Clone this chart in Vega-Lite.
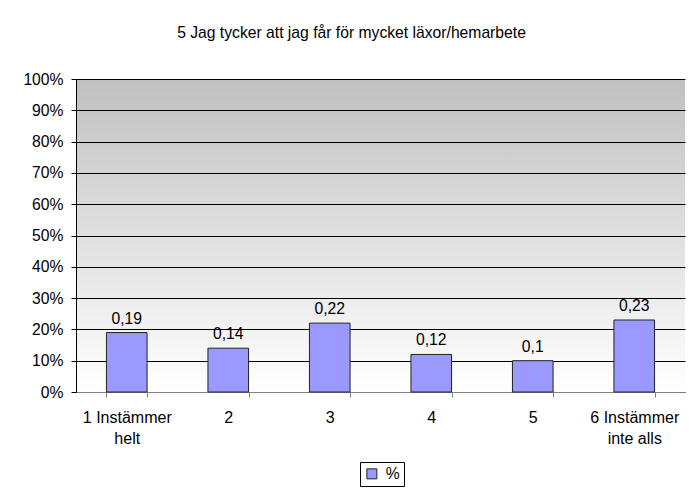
{
  "$schema": "https://vega.github.io/schema/vega-lite/v6.json",
  "width": 609,
  "height": 313,
  "autosize": {"type": "none"},
  "padding": {"left": 76, "top": 79, "right": 4, "bottom": 96},
  "background": "white",
  "title": {
    "text": "5 Jag tycker att jag får för mycket läxor/hemarbete",
    "fontSize": 15.7,
    "font": "Liberation Sans",
    "fontWeight": "normal",
    "color": "#000",
    "anchor": "middle",
    "frame": "group",
    "dx": -29,
    "offset": 22,
    "baseline": "middle"
  },
  "config": {
    "locale": {"number": {"decimal": ",", "thousands": " ", "grouping": [3], "currency": ["", " kr"]}},
    "font": "Liberation Sans",
    "view": {
      "stroke": null,
      "fill": {
        "gradient": "linear",
        "x1": 0, "y1": 0, "x2": 0, "y2": 1,
        "stops": [
          {"offset": 0, "color": "#c0c0c0"},
          {"offset": 1, "color": "#ffffff"}
        ]
      }
    }
  },
  "data": {
    "values": [
      {"cat": "1 Instämmer|helt", "v": 0.19, "s": "%"},
      {"cat": "2", "v": 0.14, "s": "%"},
      {"cat": "3", "v": 0.22, "s": "%"},
      {"cat": "4", "v": 0.12, "s": "%"},
      {"cat": "5", "v": 0.10, "s": "%"},
      {"cat": "6 Instämmer|inte alls", "v": 0.23, "s": "%"}
    ]
  },
  "encoding": {
    "x": {
      "field": "cat",
      "type": "nominal",
      "sort": null,
      "scale": {"paddingInner": 0.6, "paddingOuter": 0.3},
      "axis": {
        "title": null,
        "labelAngle": 0,
        "grid": false,
        "domainColor": "#808080",
        "tickColor": "#808080",
        "tickSize": 5,
        "tickBand": "extent",
        "labelPadding": 12,
        "labelFontSize": 16,
        "labelLineHeight": 21,
        "labelColor": "#000",
        "labelOverlap": false,
        "labelExpr": "split(datum.label, '|')"
      }
    },
    "y": {
      "field": "v",
      "type": "quantitative",
      "scale": {"domain": [0, 1]},
      "axis": {
        "title": null,
        "values": [0, 0.1, 0.2, 0.3, 0.4, 0.5, 0.6, 0.7, 0.8, 0.9, 1],
        "tickCount": 20,
        "format": ".0%",
        "grid": true,
        "gridColor": "#000",
        "gridWidth": 1,
        "gridOpacity": 1,
        "domainColor": "#000",
        "tickColor": "#000",
        "tickSize": 5,
        "labelPadding": 8,
        "labelFontSize": 15.7,
        "labelColor": "#000",
        "labelOverlap": false
      }
    }
  },
  "layer": [
    {
      "mark": {"type": "bar", "stroke": "#222", "strokeWidth": 1},
      "encoding": {
        "color": {
          "field": "s",
          "type": "nominal",
          "scale": {"range": ["#9999ff"]},
          "legend": {
            "title": null,
            "orient": "none",
            "legendX": 284,
            "legendY": 383,
            "symbolType": "square",
            "symbolSize": 100,
            "symbolStrokeColor": "#222",
            "symbolStrokeWidth": 1,
            "strokeColor": "#000",
            "padding": 4,
            "labelFontSize": 15.7,
            "labelColor": "#000",
            "labelOffset": 6
          }
        }
      }
    },
    {
      "mark": {"type": "text", "dy": -14, "fontSize": 15.7, "baseline": "middle", "color": "#000"},
      "encoding": {
        "text": {"field": "v", "type": "quantitative", "format": ".2~f"}
      }
    }
  ]
}
